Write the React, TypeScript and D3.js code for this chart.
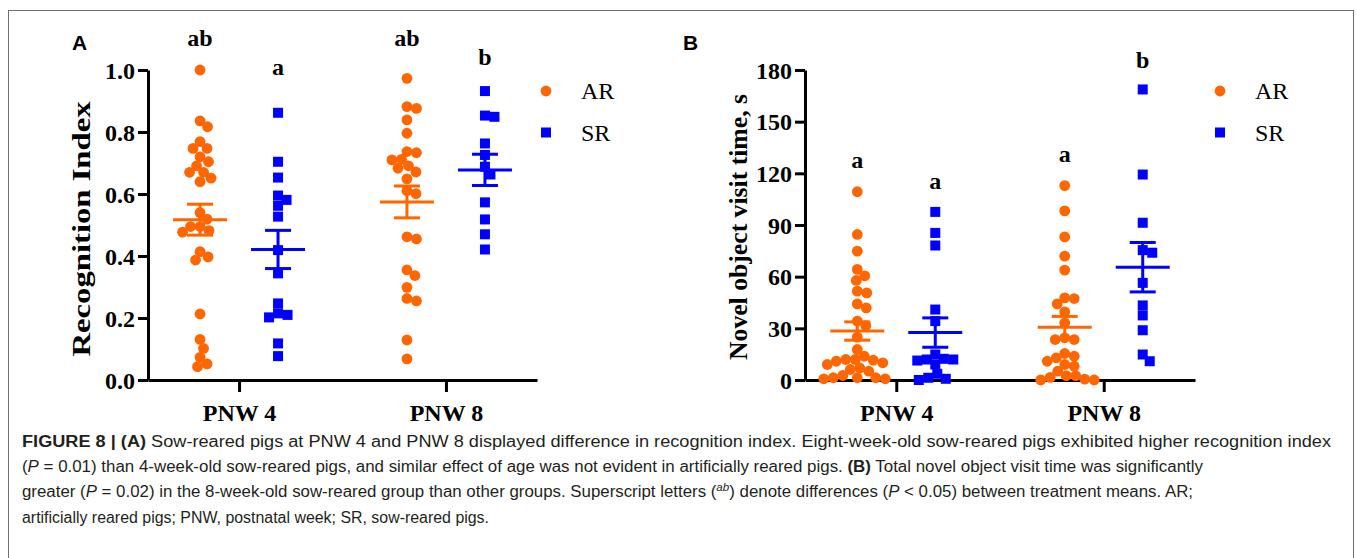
import * as d3 from "d3";
import { useEffect, useRef } from "react";

// categories
const groups = ["PNW 4", "PNW 8"];
const seriesNames = ["AR", "SR"];
const seriesColors = ["#ff6600", "#0000ff"];

// panel A: recognition index
const riAR4 = [1.0, 0.836, 0.817, 0.769, 0.747, 0.747, 0.72, 0.704, 0.691, 0.67, 0.67, 0.651, 0.64, 0.54, 0.519, 0.495, 0.495, 0.482, 0.477, 0.414, 0.397, 0.387, 0.213, 0.131, 0.102, 0.073, 0.052, 0.043];
const riSR4 = [0.862, 0.704, 0.653, 0.595, 0.581, 0.562, 0.527, 0.419, 0.344, 0.247, 0.215, 0.21, 0.202, 0.118, 0.077];
const riAR8 = [0.973, 0.882, 0.876, 0.839, 0.796, 0.737, 0.733, 0.712, 0.71, 0.691, 0.683, 0.671, 0.649, 0.611, 0.601, 0.462, 0.455, 0.355, 0.337, 0.299, 0.263, 0.255, 0.129, 0.068];
const riSR8 = [0.932, 0.853, 0.849, 0.763, 0.726, 0.688, 0.663, 0.573, 0.518, 0.47, 0.421];
const riTicks = [0, 0.2, 0.4, 0.6, 0.8, 1.0];
const riLetters = ["ab", "a", "ab", "b"];
const riLetterY = [1.103, 1.01, 1.103, 1.043];

// panel B: novel object visit time, s
const ntAR4 = [109.3, 84.5, 74.8, 64.2, 60.5, 57.8, 51.6, 50.6, 44.2, 41.9, 34.2, 31.6, 24.9, 17.7, 13.8, 11.9, 11.9, 11.5, 10.9, 10, 9, 7, 6.1, 5.1, 2.6, 1.3, 1.3, 1.3, 0.7, 0.7];
const ntSR4 = [97.6, 85.4, 78.1, 40.9, 34.2, 14.8, 12.3, 11.9, 11.9, 11.3, 9.0, 3.6, 1.3, 0.7, 0];
const ntAR8 = [112.9, 98.2, 83.1, 71.9, 63.8, 47.7, 47.3, 44.2, 39.6, 33.2, 24.5, 23.5, 23.5, 15.4, 13.8, 12.9, 10.9, 9.0, 8.0, 5.1, 2.5, 2.5, 1.5, 0.5, 0, 0];
const ntSR8 = [168.7, 119.3, 91.3, 75.4, 73.9, 56.4, 43.3, 37.5, 28.9, 14.8, 10.9];
const ntTicks = [0, 30, 60, 90, 120, 150, 180];
const ntLetters = ["a", "a", "a", "b"];
const ntLetterY = [128, 115.4, 131, 186];

// caption, one entry per printed line: [text, style]
const captionLines: [string, string][][] = [
  [["FIGURE 8 | (A)", "b"], [" Sow-reared pigs at PNW 4 and PNW 8 displayed difference in recognition index. Eight-week-old sow-reared pigs exhibited higher recognition index", ""]],
  [["(", ""], ["P", "i"], [" = 0.01) than 4-week-old sow-reared pigs, and similar effect of age was not evident in artificially reared pigs. ", ""], ["(B)", "b"], [" Total novel object visit time was significantly", ""]],
  [["greater (", ""], ["P", "i"], [" = 0.02) in the 8-week-old sow-reared group than other groups. Superscript letters (", ""], ["ab", "s"], [") denote differences (", ""], ["P", "i"], [" < 0.05) between treatment means. AR;", ""]],
  [["artificially reared pigs; PNW, postnatal week; SR, sow-reared pigs.", ""]],
];
const captionWidths = [1309, 1181, 1171, 467];

const SERIF = "'Times New Roman', 'Liberation Serif', serif";
const SANS = "Arial, 'Liberation Sans', sans-serif";

type Panel = {
  tag: string;
  left: number;
  right: number;
  yMax: number;
  ticks: number[];
  fmt: (v: number) => string;
  label: string;
  labelY: number;
  labelLen: number;
  values: number[][];
  letters: string[];
  letterY: number[];
  legendX: number;
};

const panels: Panel[] = [
  { tag: "A", left: 148, right: 537, yMax: 1, ticks: riTicks, fmt: d3.format(".1f"), label: "Recognition Index", labelY: 229, labelLen: 255,
    values: [riAR4, riSR4, riAR8, riSR8], letters: riLetters, letterY: riLetterY, legendX: 546 },
  { tag: "B", left: 805, right: 1195, yMax: 180, ticks: ntTicks, fmt: d3.format("d"), label: "Novel object visit time, s", labelY: 227, labelLen: 266,
    values: [ntAR4, ntSR4, ntAR8, ntSR8], letters: ntLetters, letterY: ntLetterY, legendX: 1220 },
];

// simple deterministic beeswarm: horizontal offsets so markers don't overlap
function swarm(vals: number[], y: (v: number) => number, d: number) {
  const order = vals.map((_, i) => i).sort((a, b) => vals[b] - vals[a]);
  const placed: { x: number; y: number }[] = [];
  const out: number[] = new Array(vals.length).fill(0);
  for (const i of order) {
    const py = y(vals[i]);
    let best = 0;
    for (let k = 0; k < 400; k++) {
      const c = k === 0 ? 0 : (k % 2 ? 1 : -1) * Math.ceil(k / 2) * 0.5;
      if (placed.every((p) => (p.x - c) ** 2 + (p.y - py) ** 2 >= d * d)) {
        best = c;
        break;
      }
    }
    placed.push({ x: best, y: py });
    out[i] = best;
  }
  return out;
}

function drawPanel(svg: d3.Selection<SVGSVGElement, unknown, null, undefined>, p: Panel) {
  const top = 70, bottom = 380;
  const y = d3.scaleLinear().domain([0, p.yMax]).range([bottom, top]);
  const x = d3.scalePoint<string>().domain(groups).range([p.left, p.right]).padding(0.44);
  const off = d3.scalePoint<string>().domain(seriesNames).range([-39, 39]);
  const g = svg.append("g");

  const ya = g.append("g")
    .attr("transform", `translate(${p.left},0)`)
    .call(d3.axisLeft(y).tickValues(p.ticks).tickFormat(p.fmt as any).tickSize(10).tickSizeOuter(0).tickPadding(3));
  const xa = g.append("g")
    .attr("transform", `translate(0,${bottom})`)
    .call(d3.axisBottom(x).tickSize(12).tickSizeOuter(0));
  [ya, xa].forEach((a) => {
    a.attr("font-family", SERIF).attr("font-size", 24).attr("font-weight", "bold");
    a.select(".domain").attr("stroke", "#000").attr("stroke-width", 3);
    a.selectAll(".tick line").attr("stroke", "#000").attr("stroke-width", 3);
    a.selectAll(".tick text").attr("fill", "#000");
  });
  xa.selectAll(".tick text").attr("y", 41).attr("dy", 0);
  ya.selectAll(".tick text").attr("dy", "0.34em");

  g.append("text")
    .attr("transform", `translate(${p.left - 58},${p.labelY}) rotate(-90)`)
    .attr("text-anchor", "middle")
    .attr("font-family", SERIF).attr("font-weight", "bold").attr("font-size", 26)
    .attr("textLength", p.labelLen).attr("lengthAdjust", "spacingAndGlyphs")
    .text(p.label);

  g.append("text")
    .attr("x", p.tag === "A" ? 72 : 683).attr("y", 50)
    .attr("font-family", SANS).attr("font-weight", "bold").attr("font-size", 21)
    .text(p.tag);

  groups.forEach((grp, gi) => {
    seriesNames.forEach((s, si) => {
      const vals = p.values[gi * 2 + si];
      const color = seriesColors[si];
      const cx = x(grp)! + off(s)!;
      const dx = swarm(vals, y, 9.5);
      const pts = g.append("g");
      if (si === 0) {
        pts.selectAll("circle").data(vals).join("circle")
          .attr("cx", (_, i) => cx + dx[i]).attr("cy", (d) => y(d)).attr("r", 5.4).attr("fill", color);
      } else {
        pts.selectAll("rect").data(vals).join("rect")
          .attr("x", (_, i) => cx + dx[i] - 5).attr("y", (d) => y(d) - 5).attr("width", 10).attr("height", 10).attr("fill", color);
      }
      const m = d3.mean(vals)!;
      const sem = d3.deviation(vals)! / Math.sqrt(vals.length);
      const eb = g.append("g").attr("stroke", color).attr("stroke-width", 3);
      eb.append("line").attr("x1", cx - 27).attr("x2", cx + 27).attr("y1", y(m)).attr("y2", y(m));
      eb.append("line").attr("x1", cx).attr("x2", cx).attr("y1", y(m - sem)).attr("y2", y(m + sem));
      [m - sem, m + sem].forEach((v) =>
        eb.append("line").attr("x1", cx - 13).attr("x2", cx + 13).attr("y1", y(v)).attr("y2", y(v)));

      g.append("text")
        .attr("x", cx).attr("y", y(p.letterY[gi * 2 + si]))
        .attr("text-anchor", "middle").attr("dominant-baseline", "central")
        .attr("font-family", SERIF).attr("font-weight", "bold").attr("font-size", 24)
        .text(p.letters[gi * 2 + si]);
    });
  });

  // legend
  seriesNames.forEach((s, si) => {
    const ly = 91 + si * 41.5;
    if (si === 0) g.append("circle").attr("cx", p.legendX).attr("cy", ly).attr("r", 5.4).attr("fill", seriesColors[si]);
    else g.append("rect").attr("x", p.legendX - 5).attr("y", ly - 5).attr("width", 10).attr("height", 10).attr("fill", seriesColors[si]);
    g.append("text").attr("x", p.legendX + 35).attr("y", ly + 8)
      .attr("font-family", SERIF).attr("font-size", 24).text(s);
  });
}

export default function App() {
  const svgRef = useRef<SVGSVGElement>(null);

  useEffect(() => {
    document.body.style.margin = "0";
    const svg = d3.select(svgRef.current!);
    svg.selectAll("*").remove();

    svg.append("rect").attr("x", 8.5).attr("y", 10.5).attr("width", 1345).attr("height", 580)
      .attr("fill", "none").attr("stroke", "#6d6e71").attr("stroke-width", 1);

    panels.forEach((p) => drawPanel(svg, p));

    const cap = svg.append("g").attr("font-family", SANS).attr("font-size", 16).attr("fill", "#231f20");
    captionLines.forEach((line, li) => {
      const t = cap.append("text").attr("x", 22).attr("y", 447 + li * 25.2)
        .attr("textLength", captionWidths[li]).attr("lengthAdjust", "spacingAndGlyphs");
      line.forEach(([txt, st]) => {
        const ts = t.append("tspan").text(txt);
        if (st === "b") ts.attr("font-weight", "bold");
        if (st === "i") ts.attr("font-style", "italic");
        if (st === "s") ts.attr("font-style", "italic").attr("font-size", 11).attr("baseline-shift", "super");
      });
    });
  }, []);

  return <svg ref={svgRef} width={1357} height={558} style={{ display: "block", background: "#fff" }} />;
}
